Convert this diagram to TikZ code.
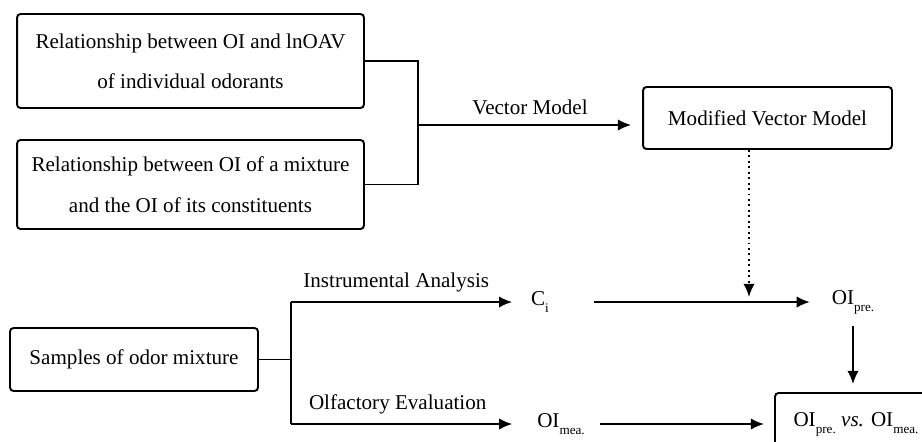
\documentclass[tikz,border=0pt]{standalone}
\usepackage{fontspec}
\setmainfont{Liberation Serif}
\usetikzlibrary{arrows.meta}
\newcommand{\lowsub}[1]{\raisebox{-4pt}{\fontsize{7.5}{8}\selectfont #1}}
\begin{document}
\begin{tikzpicture}[x=0.02cm, y=-0.02cm, >={Latex[length=7.5pt,width=6.5pt]}, line width=1.1pt,
  box/.style={draw, rounded corners=2pt, align=center, inner sep=0pt,
    font=\fontsize{12}{23}\selectfont},
  lbl/.style={inner sep=0pt, font=\fontsize{12}{14}\selectfont}]
\useasboundingbox (0,0) rectangle (922,441);
\node [box, minimum width=6.94cm, minimum height=1.88cm] (rel-1) at (190.5,61)
  {Relationship between OI and lnOAV\\of individual odorants};
\node [box, minimum width=6.94cm, minimum height=1.78cm] (rel-2) at (190.5,184.5)
  {Relationship between OI of a mixture\\and the OI of its constituents};
\node [box, minimum width=4.98cm, minimum height=1.24cm] (mvm) at (767.5,118)
  {Modified Vector Model};
\node [box, minimum width=4.96cm, minimum height=1.26cm] (samples) at (134,359.5)
  {Samples of odor mixture};
\node [lbl] (ci) at (540,302) {C\lowsub{i}};
\node [lbl] (oi-pre) at (853,302) {OI\lowsub{pre.}};
\node [lbl] (oi-mea) at (561,424) {OI\lowsub{mea.}};
\node [box, minimum width=3.24cm, minimum height=1.24cm] (result) at (856,424)
  {OI\lowsub{pre.} \textit{vs.} OI\lowsub{mea.}};
\coordinate (vm-in) at (418,125);
\coordinate (split) at (291,359.5);
\coordinate (ia) at (291,302);
\coordinate (oe) at (291,424);
\draw (rel-1.east) -| (vm-in) |- (rel-2.east);
\draw [->, shorten >=0.22cm] (vm-in) -- (vm-in -| mvm.west)
  node [lbl, above=5pt, midway] {Vector Model};
\draw [->, dotted, shorten >=0.1cm] ([xshift=-0.37cm]mvm.south) -- ([xshift=-0.37cm]mvm.south |- ci);
\draw (samples.east) -- (split);
\draw (ia) -- (oe);
\draw [->, shorten >=0.36cm] (ia) -- (ci)
  node [lbl, above=5pt, pos=0.44] {Instrumental Analysis};
\draw [->, shorten >=0.48cm] (oe) -- (oi-mea)
  node [lbl, above=5pt, pos=0.435] {Olfactory Evaluation};
\draw [->, shorten <=0.88cm, shorten >=0.42cm] (ci) -- (oi-pre);
\draw [->, shorten <=0.22cm, shorten >=0.16cm] (oi-pre.south) -- (oi-pre.south |- result.north);
\draw [->, shorten <=0.28cm, shorten >=0.2cm] (oi-mea) -- (result);
\end{tikzpicture}
\end{document}
